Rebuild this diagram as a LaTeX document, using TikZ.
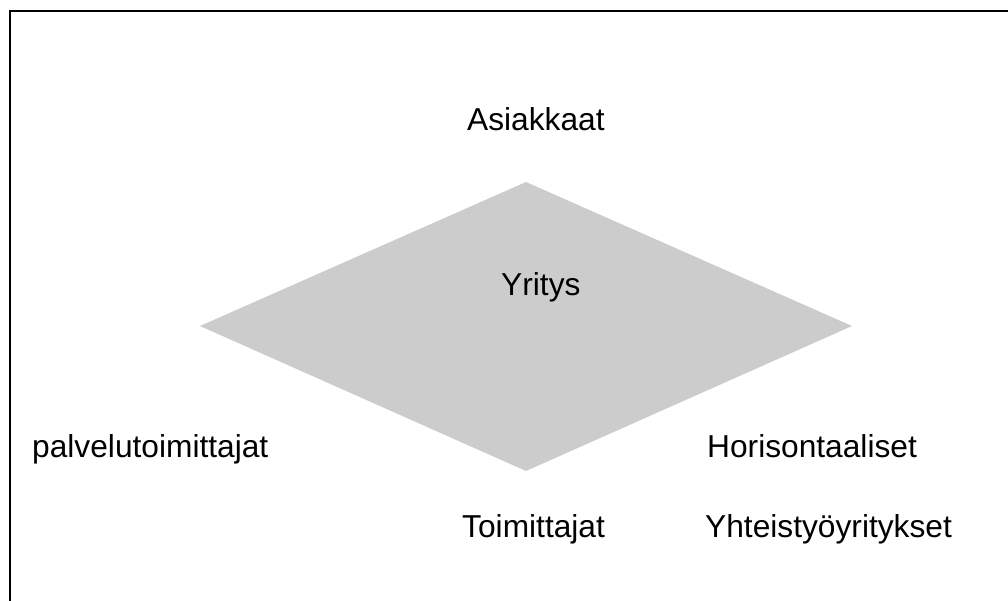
\documentclass[tikz,border=0pt]{standalone}
\usepackage{fontspec}
\setmainfont{Liberation Sans}
\begin{document}
\begin{tikzpicture}[x=1pt,y=-1pt,
  lbl/.style={anchor=base west,inner sep=0pt,font=\fontsize{31.7}{35}\selectfont},
  frameline/.style={line width=2.5pt,black}]
\useasboundingbox (0,0) rectangle (1008,600);
% outer frame (only top and left edges fall inside the page)
\draw[frameline] (1020,11) -- (10,11) -- (10,612);
% company diamond
\coordinate (dtop) at (526,182);
\coordinate (dright) at (852,326);
\coordinate (dbottom) at (526,471);
\coordinate (dleft) at (200,326);
\fill[fill={rgb,255:red,204;green,204;blue,204}] (dtop) -- (dright) -- (dbottom) -- (dleft) -- cycle;
% labels
\node[lbl] (asiakkaat) at (467,130) {Asiakkaat};
\node[lbl] (yritys) at (501,295) {Yritys};
\node[lbl] (palvelu) at (32,457) {palvelutoimittajat};
\node[lbl] (horis) at (707,457) {Horisontaaliset};
\node[lbl] (toim) at (462,537) {Toimittajat};
\node[lbl] (yhteis) at (705,537) {Yhteistyöyritykset};
\end{tikzpicture}
\end{document}
